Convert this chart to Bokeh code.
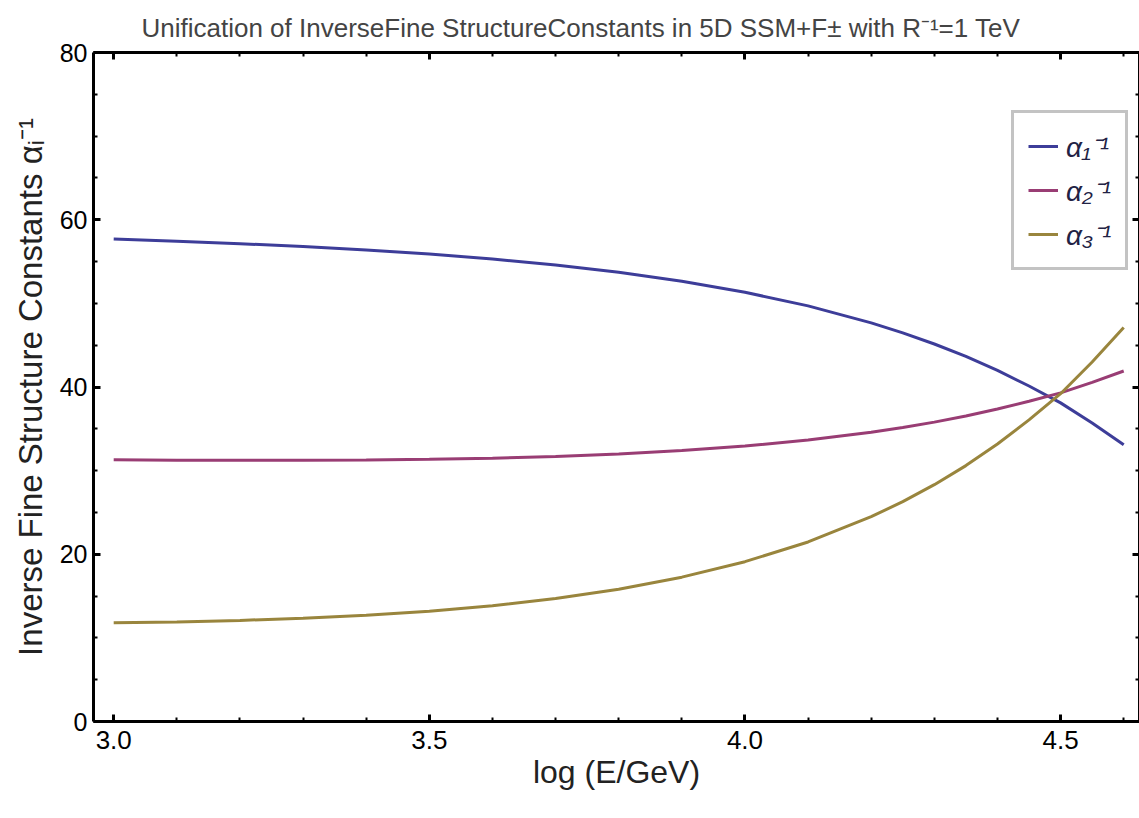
from bokeh.plotting import figure
from bokeh.models import (LinearAxis, SingleIntervalTicker, NumeralTickFormatter,
                          CustomJSTickFormatter, Range1d, Legend, LegendItem)
from bokeh.embed import file_html
from bokeh.resources import INLINE

# ---- data ----
log_e = [3.0, 3.1, 3.2, 3.3, 3.4, 3.5, 3.6, 3.7, 3.8, 3.9, 4.0, 4.1, 4.2,
         4.25, 4.3, 4.35, 4.4, 4.45, 4.5, 4.55, 4.6]
alpha1_inv = [57.70, 57.44, 57.14, 56.80, 56.39, 55.90, 55.31, 54.59, 53.72, 52.65,
              51.33, 49.70, 47.67, 46.47, 45.14, 43.65, 41.98, 40.12, 38.10, 35.70, 33.10]
alpha2_inv = [31.30, 31.25, 31.23, 31.23, 31.27, 31.36, 31.49, 31.70, 31.99, 32.40,
              32.94, 33.66, 34.59, 35.16, 35.80, 36.53, 37.36, 38.30, 39.30, 40.56, 41.91]
alpha3_inv = [11.80, 11.91, 12.09, 12.34, 12.70, 13.19, 13.84, 14.70, 15.82, 17.26,
              19.11, 21.47, 24.49, 26.29, 28.32, 30.60, 33.18, 36.07, 39.20, 42.99, 47.11]
series_labels = ["α₁⁻¹", "α₂⁻¹", "α₃⁻¹"]
colors = ["#3D3D99", "#993D74", "#99853D"]

FONT = "Liberation Sans"

p = figure(width=1139, height=810, output_backend="svg", toolbar_location=None,
           x_range=Range1d(2.968, 4.625), y_range=Range1d(0, 80),
           x_axis_location=None, y_axis_location=None,
           min_border_left=93, min_border_right=0, min_border_top=52, min_border_bottom=89,
           title="Unification of InverseFine StructureConstants in 5D SSM+F± with R⁻¹=1 TeV")
p.title.text_font = FONT
p.title.text_font_size = "26px"
p.title.text_font_style = "normal"
p.title.align = "left"
p.title.offset = 48
p.title.standoff = 20
p.outline_line_color = None
p.grid.visible = False
p.background_fill_color = "white"
p.border_fill_color = "white"


def make_axis(ticker, label=True, fmt=None, size="24px"):
    ax = LinearAxis(ticker=ticker)
    ax.axis_line_width = 3
    ax.axis_line_color = "black"
    ax.major_tick_in = 7
    ax.major_tick_out = 0
    ax.minor_tick_in = 4
    ax.minor_tick_out = 0
    ax.major_tick_line_width = 3
    ax.minor_tick_line_width = 2
    ax.major_label_text_font = FONT
    ax.major_label_text_font_size = size
    ax.major_label_text_color = "black"
    ax.axis_label_text_font = FONT
    ax.axis_label_text_font_style = "normal"
    ax.axis_label_text_font_size = "32px"
    ax.axis_label_text_color = "#222222"
    if not label:
        ax.formatter = CustomJSTickFormatter(code="return '';")
        ax.major_label_standoff = 0
    elif fmt:
        ax.formatter = NumeralTickFormatter(format=fmt)
    return ax


xb = make_axis(SingleIntervalTicker(interval=0.5, num_minor_ticks=5), fmt="0.0", size="26px")
xb.axis_label = "log (E/GeV)"
xb.major_label_standoff = 9
xb.axis_label_standoff = 2
p.add_layout(xb, "below")

xt = make_axis(SingleIntervalTicker(interval=0.5, num_minor_ticks=5), label=False)
p.add_layout(xt, "above")

yl = make_axis(SingleIntervalTicker(interval=20, num_minor_ticks=4), fmt="0", size="25px")
yl.axis_label = "Inverse Fine Structure Constants αᵢ⁻¹"
yl.axis_label_text_font_size = "33px"
yl.major_label_standoff = 6
yl.axis_label_standoff = 8
p.add_layout(yl, "left")

yr = make_axis(SingleIntervalTicker(interval=20, num_minor_ticks=4), label=False)
p.add_layout(yr, "right")

renderers = []
for vals, c in zip([alpha1_inv, alpha2_inv, alpha3_inv], colors):
    r = p.line(log_e, vals, line_color=c, line_width=3)
    renderers.append(r)

legend = Legend(items=[LegendItem(label=l, renderers=[r]) for l, r in zip(series_labels, renderers)],
                location=(918, 451))
legend.border_line_color = "#888888"
legend.border_line_width = 3
legend.background_fill_color = "white"
legend.background_fill_alpha = 1
legend.label_text_font = FONT
legend.label_text_font_style = "italic"
legend.label_text_font_size = "28px"
legend.label_text_color = "#222244"
legend.glyph_width = 30
legend.glyph_height = 20
legend.label_height = 35
legend.spacing = 6
legend.padding = 14
legend.margin = 0
legend.label_standoff = 8
p.add_layout(legend, "center")

open("out.html", "w").write(file_html(p, INLINE))
